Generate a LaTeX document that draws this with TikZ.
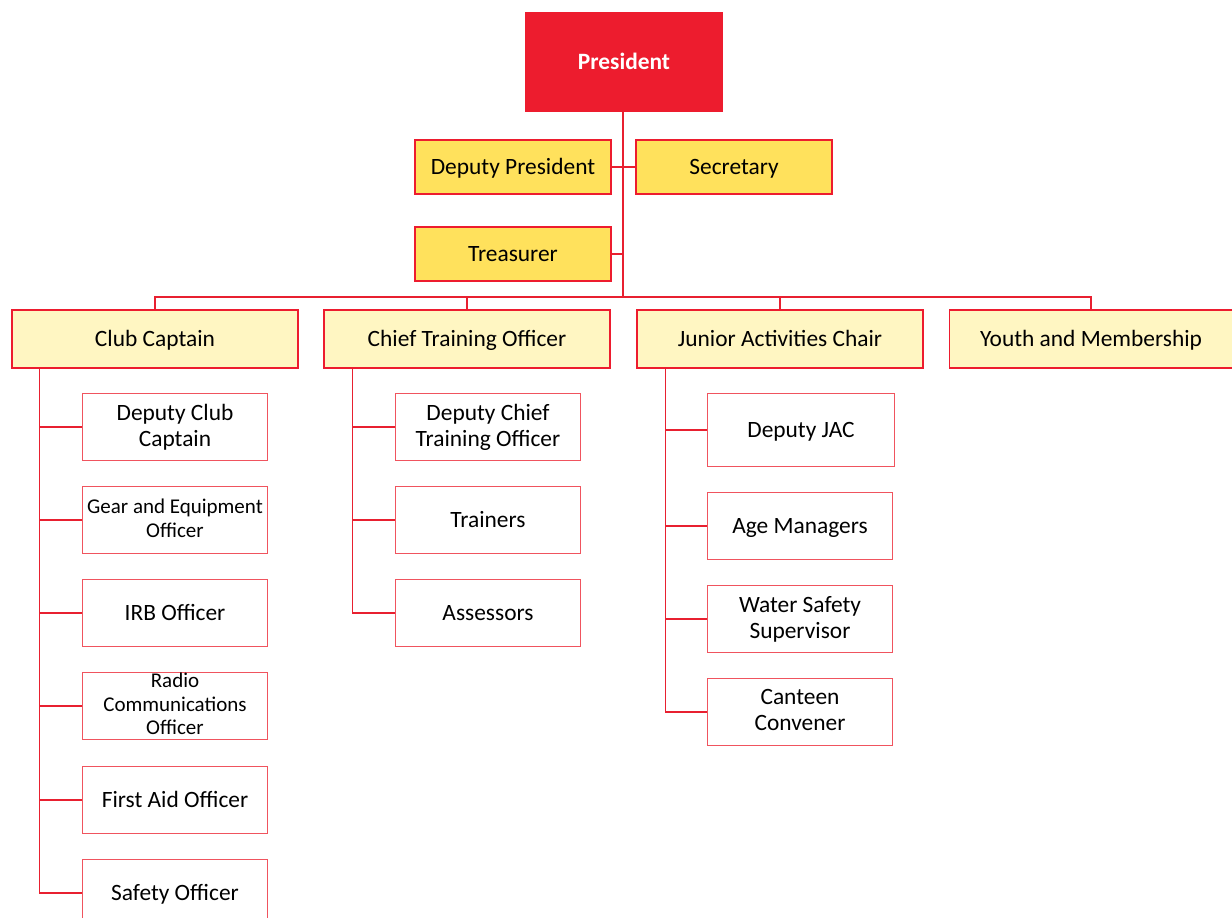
\documentclass[tikz,border=0pt]{standalone}
\usepackage{fontspec}
\setmainfont{Carlito}
\definecolor{presred}{RGB}{237,28,46}
\definecolor{linered}{RGB}{232,32,48}
\definecolor{edgered}{RGB}{240,84,94}
\definecolor{officeyellow}{RGB}{255,225,92}
\definecolor{paleyellow}{RGB}{255,246,194}
\newcommand{\boxstrut}{\rule[-4pt]{0pt}{23pt}}
\newcommand{\smallstrut}{\rule[-3pt]{0pt}{16pt}}
\begin{document}
\begin{tikzpicture}[
  x=1pt, y=-1pt,
  box/.style={draw=edgered, line width=1.3pt, fill=white, align=center, inner sep=2pt,
    minimum width=185pt, minimum height=67pt, font=\fontsize{23.4}{26}\selectfont,
    execute at begin node=\boxstrut, execute at end node=\boxstrut},
  officer/.style={box, draw=presred, fill=officeyellow, minimum width=196pt, minimum height=54pt},
  chair/.style={box, draw=presred, fill=paleyellow, minimum width=286pt, minimum height=58pt},
  small/.style={font=\fontsize{21}{23.5}\selectfont, inner ysep=0pt,
    execute at begin node=\smallstrut, execute at end node=\smallstrut},
  link/.style={draw=linered, line width=1.3pt},
  trunk/.style={draw=linered, line width=2pt}
]
  \useasboundingbox (0,0) rectangle (1232,918);
  \clip (0,0) rectangle (1232,918);

  % President
  \node[box, draw=presred, fill=presred, text=white, font=\fontsize{23.4}{26}\selectfont\bfseries,
    minimum width=196pt, minimum height=98pt] (pres) at (624,62) {President};

  % Officers
  \node[officer] (dep) at (513,167) {Deputy President};
  \node[officer] (sec) at (734,167) {Secretary};
  \node[officer] (tre) at (513,254) {Treasurer};

  % Chairs
  \node[chair] (cc) at (155,339) {Club Captain};
  \node[chair] (cto) at (467,339) {Chief Training Officer};
  \node[chair] (jac) at (780,339) {Junior Activities Chair};
  \node[chair, minimum width=283pt] (yam) at (1091,339) {Youth and Membership};

  % Club Captain team
  \node[box] (dcc) at (175,427) {Deputy Club\\Captain};
  \node[box, small] (gear) at (175,520) {Gear and Equipment\\Officer};
  \node[box] (irb) at (175,613) {IRB Officer};
  \node[box, small] (radio) at (175,706) {Radio\\Communications\\Officer};
  \node[box] (aid) at (175,800) {First Aid Officer};
  \node[box] (safe) at (175,893) {Safety Officer};

  % Training team
  \node[box] (dcto) at (488,427) {Deputy Chief\\Training Officer};
  \node[box] (trn) at (488,520) {Trainers};
  \node[box] (ass) at (488,613) {Assessors};

  % Junior activities team
  \node[box, minimum width=187pt, minimum height=73pt] (djac) at (801,430) {Deputy JAC};
  \node[box] (age) at (800,526) {Age Managers};
  \node[box] (wss) at (800,619) {Water Safety\\Supervisor};
  \node[box] (can) at (800,712) {Canteen\\Convener};

  % Connecting lines
  \coordinate (bus) at (623,297);
  \draw[trunk] (pres.south -| bus) -- (bus);
  \draw[link] (dep.east) -- (sec.west);
  \draw[link] (tre.east) -- (tre.east -| bus);
  \draw[link] (cc.north) |- (bus) -| (yam.north);
  \draw[link] (cto.north) -- (cto.north |- bus);
  \draw[link] (jac.north) -- (jac.north |- bus);

  \foreach \n in {dcc,gear,irb,radio,aid,safe}
    \draw[link] (cc.south west) ++(28,0) |- (\n.west);
  \foreach \n in {dcto,trn,ass}
    \draw[link] (cto.south west) ++(29,0) |- (\n.west);
  \foreach \n in {djac,age,wss,can}
    \draw[link] (jac.south west) ++(29,0) |- (\n.west);
\end{tikzpicture}
\end{document}
